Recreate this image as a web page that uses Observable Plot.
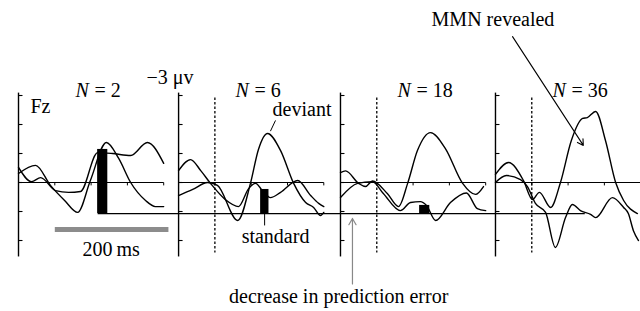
<!DOCTYPE html>
<html><head><meta charset="utf-8">
<script src="https://cdn.jsdelivr.net/npm/d3@7"></script>
<script src="https://cdn.jsdelivr.net/npm/@observablehq/plot@0.6"></script>
<style>
html,body{margin:0;padding:0;background:#fff;}
svg text{font-family:"Liberation Serif","Times New Roman",serif !important;}
</style>
</head><body><div id="chart"></div>
<script>
// ---- data (time in ms, amplitude in µV, negative up) ----
const setSizes = [2, 6, 18, 36];
const timeTicks = [0, 100, 200, 300];
const ampTicks = [-3, -2, -1, 0, 1, 2];

const dev2 = [[-100,-0.31],[-53,-0.59],[-12,0.10],[27,0.62],[63,1.03],[98,-0.07],[142,-1.38],[176,-0.83],[209,0.0],[250,0.62],[277,0.83],[300,0.83]];
const std2 = [[-100,-0.52],[-64,-0.03],[-39,-0.17],[2,0.28],[38,0.34],[71,0.31],[118,-1.03],[159,-1.0],[209,-0.93],[255,-1.38],[300,-0.66]];

const dev6 = [[-100,0.45],[-61,0.24],[-20,0.0],[7,0.10],[63,1.31],[98,0.03],[120,-1.14],[145,-1.69],[181,-1.10],[217,0.03],[250,0.69],[272,0.86],[291,1.14],[300,1.03]];
const std6 = [[-100,-0.41],[-67,-0.79],[-39,-0.41],[-12,0.03],[29,0.59],[65,0.83],[93,0.21],[112,0.03],[131,0.28],[153,0.52],[181,0.34],[228,-0.07],[264,0.45],[286,0.72],[300,0.83]];

const dev18 = [[-100,-0.34],[-86,-0.40],[-50,0.03],[-31,0.14],[-12,-0.05],[29,0.38],[60,0.83],[85,0.03],[112,-1.10],[148,-1.72],[189,-1.17],[236,0.02],[272,0.41],[294,0.14]];
const std18 = [[-100,0.52],[-53,0.03],[-12,-0.03],[18,0.38],[65,0.97],[93,0.69],[120,0.66],[137,0.79],[162,1.31],[203,0.69],[247,0.36],[277,0.90],[300,0.97]];

const dev36 = [[-100,-0.28],[-64,-0.69],[-23,-0.07],[2,0.59],[21,0.34],[52,0.86],[79,0.0],[109,-1.45],[140,-2.21],[153,-2.24],[176,-2.45],[203,-1.45],[231,0.0],[253,0.62],[291,1.07]];
const std36 = [[-100,0.0],[-70,-0.24],[-31,-0.10],[-12,0.14],[10,0.72],[38,1.03],[65,2.24],[93,1.21],[112,0.76],[134,0.97],[162,1.10],[176,1.21],[222,0.52],[253,0.86],[266,1.07],[280,1.66],[294,2.0]];

// prediction error bars (µV units, drawn up from a common baseline)
const predError = [2.21, 0.83, 0.28, 0];
const peBaseline = 1.07;
const peStart = [118, 126, 118, 118];
const peEnd = [146, 149, 146, 146];

// ---- layout ----
const W = 640, H = 311;
const offsets = [0, 441, 887, 1314]; // where each panel's time axis sits on the shared x scale
const gx = (p, t) => offsets[p] + t;
const P = [0, 1, 2, 3];
const curveSets = [[dev2, std2], [dev6, std6], [dev18, std18], [dev36, std36]];

const lineRows = [];
curveSets.forEach(([dev, std], p) => {
  dev.forEach(([t, v]) => lineRows.push({id: "d" + p, x: gx(p, t), v}));
  std.forEach(([t, v]) => lineRows.push({id: "s" + p, x: gx(p, t), v}));
});
const axisTickRows = P.flatMap(p => ampTicks.map(v => ({p, v})));
const zeroTickRows = P.flatMap(p => timeTicks.map(t => ({p, t})));
const barRows = P.map(p => ({p, top: peBaseline - predError[p]})).filter(d => predError[d.p] > 0);

const serif = "Liberation Serif";
const txt = (x, y, label, o = {}) => Plot.text([{x, y, label}], {x: "x", y: "y", text: "label", fontSize: 20, fontFamily: serif, fill: "#000", lineAnchor: "bottom", ...o});

const chart = Plot.plot({
  width: W, height: H, margin: 0,
  x: {type: "linear", domain: [-149.6, 1613.5], range: [0, W], axis: null},
  y: {type: "linear", domain: [-6.276, 4.448], range: [0, H], axis: null},
  style: {background: "#fff", fontFamily: serif},
  marks: [
    // amplitude axes
    Plot.link(P, {x1: p => gx(p, -100), x2: p => gx(p, -100), y1: () => -3.1, y2: () => 2.55, stroke: "#000", strokeWidth: 1.4}),
    Plot.link(axisTickRows, {x1: d => gx(d.p, -100), x2: d => gx(d.p, -100) + 11, y1: "v", y2: "v", stroke: "#000", strokeWidth: 1.1}),
    // zero lines with time ticks
    Plot.link(P, {x1: p => gx(p, -100), x2: p => gx(p, 300), y1: () => 0, y2: () => 0, stroke: "#000", strokeWidth: 1.2}),
    Plot.link(zeroTickRows, {x1: d => gx(d.p, d.t), x2: d => gx(d.p, d.t), y1: () => 0, y2: () => 0.1, stroke: "#000", strokeWidth: 1}),
    // stimulus onset (dotted) in panels 2-4
    Plot.link([1, 2, 3], {x1: p => gx(p, 0), x2: p => gx(p, 0), y1: () => -2.93, y2: () => 2.41, stroke: "#000", strokeWidth: 1.3, strokeDasharray: "2.5,2"}),
    // prediction-error baseline across panels
    Plot.link([0], {x1: () => gx(0, peStart[0]), x2: () => gx(3, peEnd[3]), y1: () => peBaseline, y2: () => peBaseline, stroke: "#000", strokeWidth: 1.2}),
    // prediction-error bars
    Plot.rect(barRows, {x1: d => gx(d.p, peStart[d.p]), x2: d => gx(d.p, peEnd[d.p]), y1: () => peBaseline, y2: "top", fill: "#000"}),
    // waveforms
    Plot.line(lineRows, {x: "x", y: "v", z: "id", stroke: "#000", strokeWidth: 1.4, curve: "monotone-x"}),
    // scale bar 200 ms
    Plot.link([0], {x1: () => gx(0, 0), x2: () => gx(0, 313), y1: () => 1.62, y2: () => 1.62, stroke: "#8c8c8c", strokeWidth: 5}),
    txt(gx(0, 155), 2.55, "200\u2009ms", {textAnchor: "middle"}),
    // labels
    txt(gx(0, -67), -2.41, "Fz", {textAnchor: "start"}),
    txt(gx(1, -59), -3.38, "\u22123 \u03bcv", {textAnchor: "end"}),
    ...P.map(p => txt(gx(p, 57), -2.95, "N", {textAnchor: "start", fontStyle: "italic"})),
    ...P.map(p => txt(gx(p, 57), -2.95, "= " + setSizes[p], {textAnchor: "start", dx: 19})),
    // deviant / standard annotations
    txt(gx(1, 240), -2.31, "deviant", {textAnchor: "middle"}),
    Plot.link([0], {x1: () => gx(1, 167), y1: () => -2.14, x2: () => gx(1, 153), y2: () => -1.77, stroke: "#000", strokeWidth: 1}),
    txt(gx(1, 167), 2.10, "standard", {textAnchor: "middle"}),
    Plot.link([0], {x1: () => gx(1, 137), y1: () => peBaseline, x2: () => gx(1, 137), y2: () => 1.48, stroke: "#000", strokeWidth: 1}),
    // prediction-error decrease arrow
    Plot.arrow([0], {x1: () => gx(2, -67), y1: () => 3.5, x2: () => gx(2, -67), y2: () => 1.24, stroke: "#888", strokeWidth: 1.2, headLength: 9}),
    txt(gx(2, -105), 4.17, "decrease in prediction error", {textAnchor: "middle"}),
    // MMN revealed
    txt(gx(3, -107), -5.41, "MMN revealed", {textAnchor: "middle"}),
    Plot.arrow([0], {x1: () => gx(3, -53), y1: () => -5.03, x2: () => gx(3, 142), y2: () => -1.28, stroke: "#000", strokeWidth: 1.1, headLength: 9})
  ]
});
document.getElementById("chart").appendChild(chart);
</script>
</body></html>
